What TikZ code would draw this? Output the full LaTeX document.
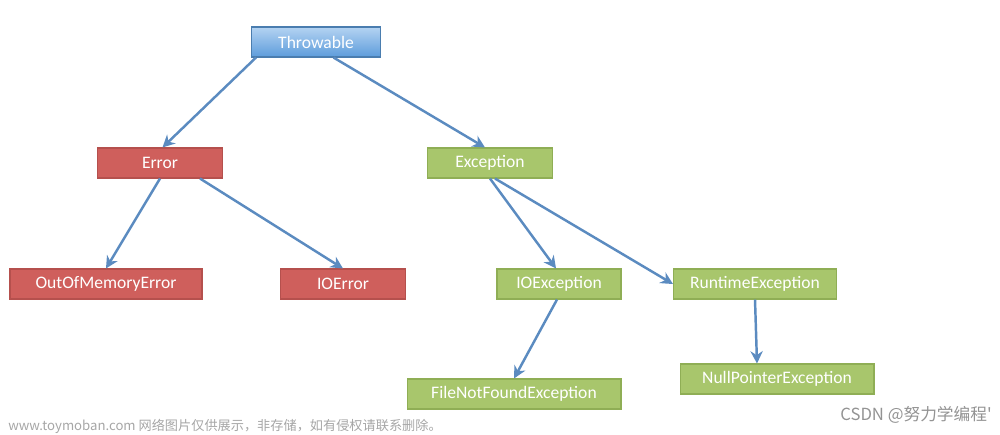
\documentclass[tikz,border=0pt]{standalone}
\usepackage{fontspec}
\setmainfont{Carlito}
\newfontfamily\cjk{Noto Sans CJK SC}
\usetikzlibrary{arrows.meta}
\definecolor{arr}{HTML}{5B8BC0}
\definecolor{redf}{HTML}{CF5F5C}
\definecolor{redb}{HTML}{B5504D}
\definecolor{grnf}{HTML}{A8C66C}
\definecolor{grnb}{HTML}{8FAE55}
\definecolor{blut}{HTML}{B4D3F2}
\definecolor{blub}{HTML}{5D9CDB}
\tikzset{
 box/.style={draw, line width=0.6pt, minimum height=0.6cm, font=\fontsize{10}{12}\selectfont, inner sep=0pt},
 redbox/.style={box, fill=redf, draw=redb, text=white},
 grnbox/.style={box, fill=grnf, draw=grnb, text=white},
 blubox/.style={box, top color=blut, bottom color=blub, draw=blub!80!black, text=white},
 link/.style={draw=arr, line width=1.4pt, -{Stealth[length=7pt,width=7pt]}}
}
\begin{document}
\begin{tikzpicture}[x=0.02cm,y=-0.02cm]
\useasboundingbox (0,0) rectangle (1000,434);
\node[blubox, minimum width=2.58cm] (thr) at (316,42) {Throwable};
\node[redbox, minimum width=2.5cm] (err) at (160,163) {Error};
\node[grnbox, minimum width=2.5cm] (exc) at (490,163) {Exception};
\node[redbox, minimum width=3.84cm] (oom) at (106,284) {OutOfMemoryError};
\node[redbox, minimum width=2.5cm] (ioe) at (343,284) {IOError};
\node[grnbox, minimum width=2.48cm] (iox) at (559,284) {IOException};
\node[grnbox, minimum width=3.26cm] (rte) at (755,284) {RuntimeException};
\node[grnbox, minimum width=4.28cm] (fnf) at (514,394) {FileNotFoundException};
\node[grnbox, minimum width=3.88cm] (npe) at (777,379) {NullPointerException};
\draw[link] ([xshift=-1.2cm]thr.south) -- ([xshift=0.05cm]err.north);
\draw[link] ([xshift=0.35cm]thr.south) -- ([xshift=-0.1cm]exc.north);
\draw[link] (err.south) -- (oom.north);
\draw[link] ([xshift=0.8cm]err.south) -- (ioe.north);
\draw[link] (exc.south) -- ([xshift=-0.06cm]iox.north);
\draw[link] ([xshift=0.1cm]exc.south) -- (rte.west);
\draw[link] ([xshift=-0.04cm]iox.south) -- (fnf.north);
\draw[link] (rte.south) -- ([xshift=-0.4cm]npe.north);
\node[anchor=west, text=gray!70, font=\cjk\fontsize{7.5}{9}\selectfont, inner sep=0pt] (wm) at (8,426) {www.toymoban.com 网络图片仅供展示，非存储，如有侵权请联系删除。};
\node[anchor=east, text=gray!85, font=\cjk\fontsize{9.5}{11}\selectfont, inner sep=0pt] (cs) at (992,415) {CSDN @努力学编程'};
\end{tikzpicture}
\end{document}
